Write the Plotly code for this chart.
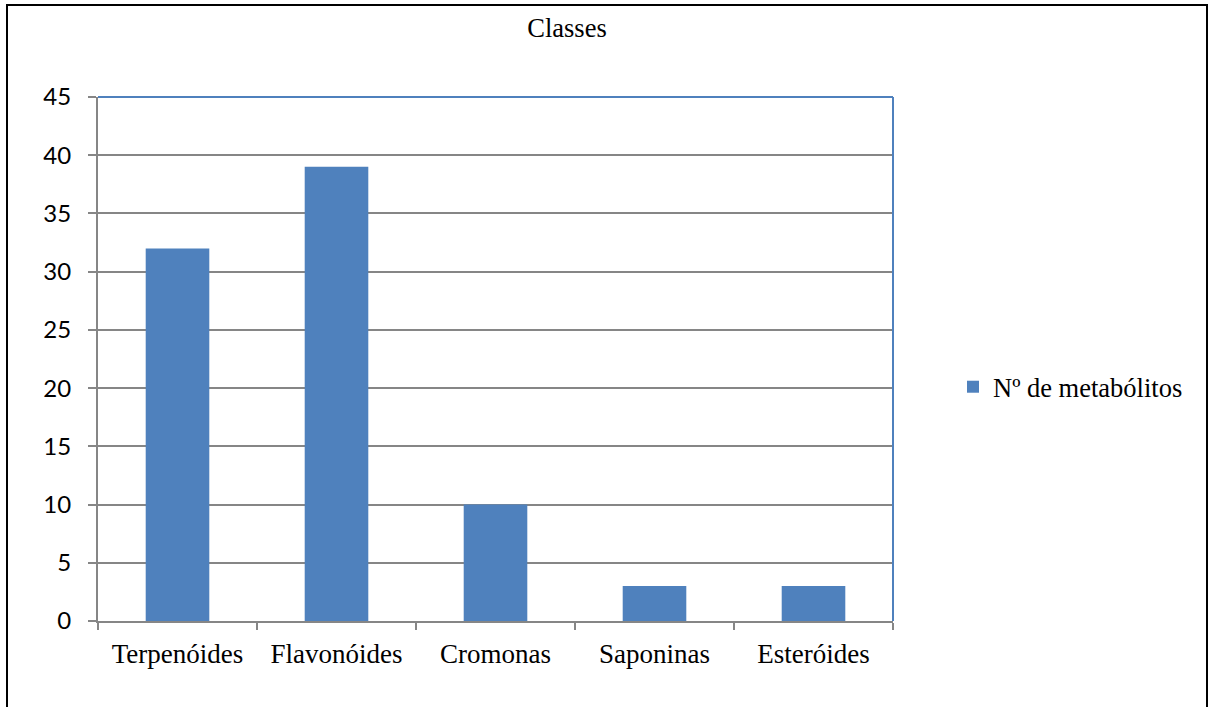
import plotly.graph_objects as go

# Number of metabolites per chemical class
classes = ["Terpenóides", "Flavonóides", "Cromonas", "Saponinas", "Esteróides"]
metabolitos = [32, 39, 10, 3, 3]
serie = "Nº de metabólitos"

W, H = 1208, 707
L, R, T, B = 98, 315, 97, 86
pw, ph = W - L - R, H - T - B

bar_color = "#4F81BD"
grid_color = "#868686"

def px_x(x):
    return (x - L) / pw

def px_y(y):
    return (H - B - y) / ph

fig = go.Figure(
    go.Bar(
        x=classes,
        y=metabolitos,
        name=serie,
        marker=dict(color=bar_color, line=dict(width=0)),
        width=0.4,
        showlegend=True,
    )
)

fig.update_layout(
    width=W,
    height=H,
    margin=dict(l=L, r=R, t=T, b=B),
    paper_bgcolor="white",
    plot_bgcolor="white",
    title=dict(
        text="Classes",
        xref="container",
        x=567 / W,
        xanchor="center",
        yref="container",
        y=1 - 28 / H,
        yanchor="middle",
        font=dict(family="Liberation Serif", size=26.5, color="black"),
    ),
    xaxis=dict(
        type="category",
        tickson="boundaries",
        ticks="outside",
        ticklen=7,
        tickwidth=2,
        tickcolor=grid_color,
        showline=True,
        linecolor=grid_color,
        linewidth=2,
        showgrid=False,
        ticklabelstandoff=8,
        tickfont=dict(family="Liberation Serif", size=27, color="black"),
    ),
    yaxis=dict(
        range=[0, 45],
        dtick=5,
        ticks="outside",
        ticklen=8,
        tickwidth=2,
        tickcolor=grid_color,
        showline=True,
        linecolor=grid_color,
        linewidth=2,
        showgrid=True,
        gridcolor=grid_color,
        gridwidth=1.5,
        zeroline=False,
        ticklabelstandoff=12,
        tickfont=dict(family="Lato", size=24, color="black"),
    ),
    legend=dict(
        x=px_x(953),
        y=px_y(387),
        xanchor="left",
        yanchor="middle",
        font=dict(family="Liberation Serif", size=26.5, color="black"),
        bgcolor="rgba(0,0,0,0)",
        itemwidth=30,
    ),
)

# Plot-area frame: blue top and right edges
fig.add_shape(type="line", xref="paper", yref="paper", x0=0, x1=1, y0=1, y1=1,
              line=dict(color=bar_color, width=2))
fig.add_shape(type="line", xref="paper", yref="paper", x0=1, x1=1, y0=0, y1=1,
              line=dict(color=bar_color, width=2))

# Outer chart border
fig.add_shape(type="rect", xref="paper", yref="paper",
              x0=px_x(7), x1=px_x(1207), y0=px_y(H + 10), y1=px_y(5),
              line=dict(color="black", width=2), fillcolor="rgba(0,0,0,0)", layer="above")

fig.write_html("out.html")
